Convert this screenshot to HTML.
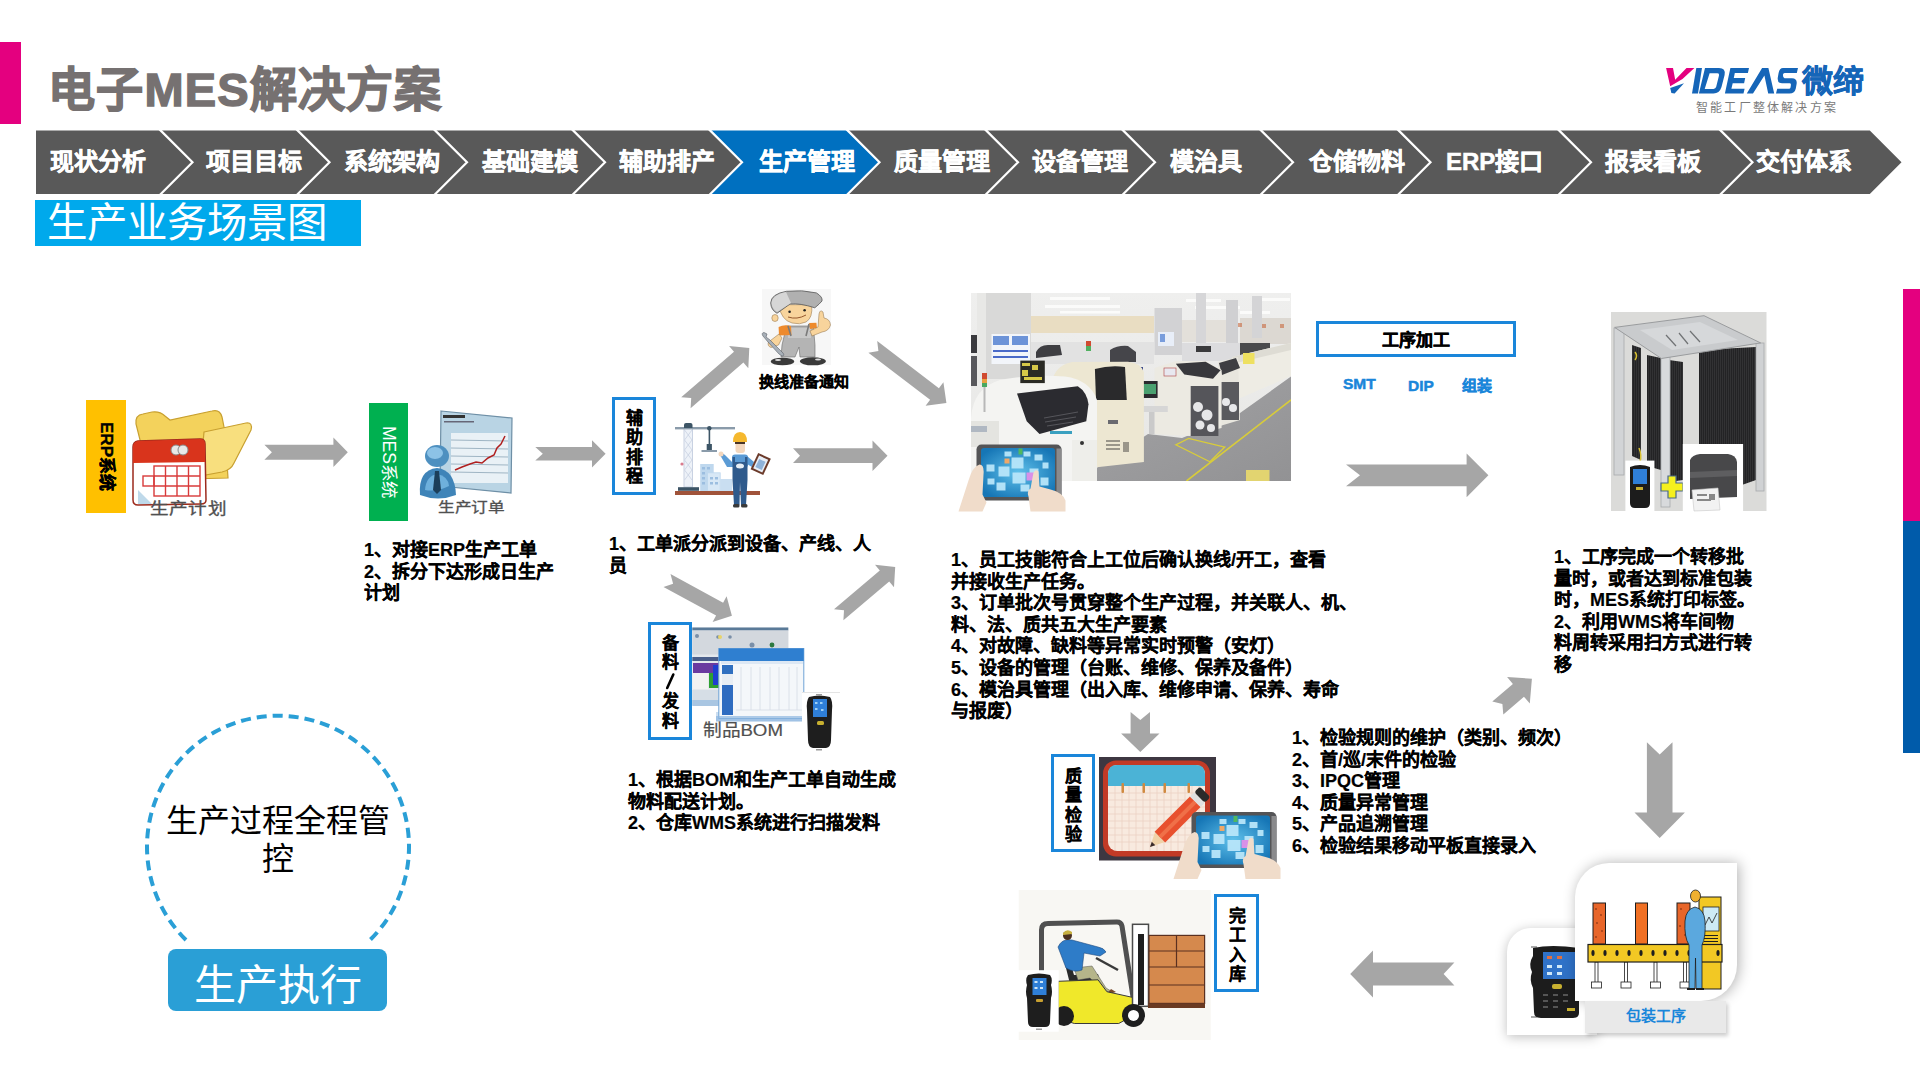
<!DOCTYPE html>
<html lang="zh-CN">
<head>
<meta charset="utf-8">
<style>
html,body{margin:0;padding:0;}
body{width:1920px;height:1080px;position:relative;overflow:hidden;background:#fff;font-family:"Liberation Sans",sans-serif;color:#000;}
.abs{position:absolute;}
svg.full{position:absolute;left:0;top:0;}
.title{position:absolute;left:48px;top:58px;font-size:47px;font-weight:bold;color:#767171;line-height:64px;white-space:nowrap;letter-spacing:1.2px;-webkit-text-stroke:1.4px #767171;}
.cl{position:absolute;top:146px;font-size:24px;font-weight:bold;color:#fff;line-height:32px;white-space:nowrap;-webkit-text-stroke:0.5px #fff;}
.sub{position:absolute;left:35px;top:200px;width:326px;height:46px;background:#00A9EC;}
.subt{position:absolute;left:47px;top:197px;font-size:40.5px;color:#fff;line-height:52px;white-space:nowrap;}
.txt{position:absolute;font-size:18px;font-weight:bold;line-height:21.6px;white-space:nowrap;color:#000;-webkit-text-stroke:0.2px #000;}
.vbox{position:absolute;border:3px solid #1A86DA;background:#fff;box-sizing:border-box;}
.vt{position:absolute;font-size:17px;font-weight:bold;line-height:19.4px;text-align:center;width:20px;-webkit-text-stroke:0.2px #000;}
</style>
</head>
<body>
<!-- pink bar -->
<div class="abs" style="left:0;top:42px;width:21px;height:82px;background:#E4007F"></div>
<div class="title">电子MES解决方案</div>

<!-- logo -->
<div class="abs" style="left:1802px;top:63px;font-size:31px;font-weight:bold;color:#1565B8;line-height:38px;-webkit-text-stroke:0.6px #1565B8;">微缔</div>
<div class="abs" style="left:1696px;top:99px;font-size:12px;color:#7A7A7A;line-height:18px;letter-spacing:2.2px;">智能工厂整体解决方案</div>

<svg class="full" width="1920" height="1080">
<polygon fill="#595959" points="36.0,130.6 160.8,130.6 192.5,162.3 160.8,194.0 36.0,194.0"/>
<polygon fill="#595959" points="160.8,130.6 297.8,130.6 329.5,162.3 297.8,194.0 160.8,194.0 192.5,162.3"/>
<polygon fill="#595959" points="297.8,130.6 435.3,130.6 467.0,162.3 435.3,194.0 297.8,194.0 329.5,162.3"/>
<polygon fill="#595959" points="435.3,130.6 573.3,130.6 605.0,162.3 573.3,194.0 435.3,194.0 467.0,162.3"/>
<polygon fill="#595959" points="573.3,130.6 710.3,130.6 742.0,162.3 710.3,194.0 573.3,194.0 605.0,162.3"/>
<polygon fill="#0070C0" points="710.3,130.6 847.8,130.6 879.5,162.3 847.8,194.0 710.3,194.0 742.0,162.3"/>
<polygon fill="#595959" points="847.8,130.6 986.3,130.6 1018.0,162.3 986.3,194.0 847.8,194.0 879.5,162.3"/>
<polygon fill="#595959" points="986.3,130.6 1123.3,130.6 1155.0,162.3 1123.3,194.0 986.3,194.0 1018.0,162.3"/>
<polygon fill="#595959" points="1123.3,130.6 1261.3,130.6 1293.0,162.3 1261.3,194.0 1123.3,194.0 1155.0,162.3"/>
<polygon fill="#595959" points="1261.3,130.6 1398.8,130.6 1430.5,162.3 1398.8,194.0 1261.3,194.0 1293.0,162.3"/>
<polygon fill="#595959" points="1398.8,130.6 1559.3,130.6 1591.0,162.3 1559.3,194.0 1398.8,194.0 1430.5,162.3"/>
<polygon fill="#595959" points="1559.3,130.6 1720.8,130.6 1752.5,162.3 1720.8,194.0 1559.3,194.0 1591.0,162.3"/>
<polygon fill="#595959" points="1720.8,130.6 1869.8,130.6 1901.5,162.3 1869.8,194.0 1720.8,194.0 1752.5,162.3"/>
<polyline fill="none" stroke="#fff" stroke-width="2.2" points="159.3,129.1 192.5,162.3 159.3,195.5"/>
<polyline fill="none" stroke="#fff" stroke-width="2.2" points="296.3,129.1 329.5,162.3 296.3,195.5"/>
<polyline fill="none" stroke="#fff" stroke-width="2.2" points="433.8,129.1 467.0,162.3 433.8,195.5"/>
<polyline fill="none" stroke="#fff" stroke-width="2.2" points="571.8,129.1 605.0,162.3 571.8,195.5"/>
<polyline fill="none" stroke="#fff" stroke-width="2.2" points="708.8,129.1 742.0,162.3 708.8,195.5"/>
<polyline fill="none" stroke="#fff" stroke-width="2.2" points="846.3,129.1 879.5,162.3 846.3,195.5"/>
<polyline fill="none" stroke="#fff" stroke-width="2.2" points="984.8,129.1 1018.0,162.3 984.8,195.5"/>
<polyline fill="none" stroke="#fff" stroke-width="2.2" points="1121.8,129.1 1155.0,162.3 1121.8,195.5"/>
<polyline fill="none" stroke="#fff" stroke-width="2.2" points="1259.8,129.1 1293.0,162.3 1259.8,195.5"/>
<polyline fill="none" stroke="#fff" stroke-width="2.2" points="1397.3,129.1 1430.5,162.3 1397.3,195.5"/>
<polyline fill="none" stroke="#fff" stroke-width="2.2" points="1557.8,129.1 1591.0,162.3 1557.8,195.5"/>
<polyline fill="none" stroke="#fff" stroke-width="2.2" points="1719.3,129.1 1752.5,162.3 1719.3,195.5"/>
</svg>
<div class="cl" style="left:50.0px">现状分析</div>
<div class="cl" style="left:206.0px">项目目标</div>
<div class="cl" style="left:344.0px">系统架构</div>
<div class="cl" style="left:481.5px">基础建模</div>
<div class="cl" style="left:619.0px">辅助排产</div>
<div class="cl" style="left:759.0px">生产管理</div>
<div class="cl" style="left:894.0px">质量管理</div>
<div class="cl" style="left:1031.5px">设备管理</div>
<div class="cl" style="left:1170.0px">模治具</div>
<div class="cl" style="left:1308.5px">仓储物料</div>
<div class="cl" style="left:1446.0px">ERP接口</div>
<div class="cl" style="left:1605.0px">报表看板</div>
<div class="cl" style="left:1756.0px">交付体系</div>

<div class="sub"></div>
<div class="subt">生产业务场景图</div>

<!-- right bars -->
<div class="abs" style="left:1903px;top:289px;width:17px;height:232px;background:#E4007F"></div>
<div class="abs" style="left:1903px;top:521px;width:17px;height:232px;background:#005BAA"></div>

<svg class="full" width="1920" height="1080">
<polygon fill="#A6A6A6" points="264.4,444.8 333.4,444.8 333.4,437.6 347.8,452.3 333.4,467.0 333.4,459.8 264.4,459.8 271.9,452.3"/>
<polygon fill="#A6A6A6" points="535.3,447.0 592.0,447.0 592.0,440.2 605.6,453.8 592.0,467.4 592.0,460.6 535.3,460.6 542.8,453.8"/>
<polygon fill="#A6A6A6" points="793.0,448.3 872.5,448.3 872.5,440.4 887.5,455.7 872.5,470.9 872.5,463.1 793.0,463.1 800.0,455.7"/>
<polygon fill="#A6A6A6" points="681.2,397.2 734.0,351.7 729.1,346.0 749.3,348.0 748.3,368.3 743.4,362.6 690.6,408.2 691.2,398.1"/>
<polygon fill="#A6A6A6" points="877.2,341.1 938.9,388.2 943.4,382.3 946.4,403.1 925.6,405.7 930.1,399.8 868.4,352.7 878.4,351.1"/>
<polygon fill="#A6A6A6" points="670.5,574.1 723.1,602.7 726.6,596.2 731.9,615.8 712.6,622.0 716.1,615.5 663.5,586.9 673.1,583.8"/>
<polygon fill="#A6A6A6" points="834.0,609.3 879.8,570.5 875.0,564.8 895.2,567.0 894.0,587.3 889.2,581.6 843.4,620.3 844.0,610.3"/>
<polygon fill="#A6A6A6" points="1346.0,464.4 1466.6,464.4 1466.6,453.4 1488.4,475.3 1466.6,497.2 1466.6,486.2 1346.0,486.2 1360.0,475.3"/>
<polygon fill="#A6A6A6" points="1150.0,712.0 1150.0,733.4 1159.5,733.4 1140.3,751.9 1121.1,733.4 1130.6,733.4 1130.6,712.0 1140.3,720.0"/>
<polygon fill="#A6A6A6" points="1492.3,701.5 1512.9,683.9 1507.1,677.0 1531.9,678.8 1529.8,703.6 1524.0,696.8 1503.3,714.5 1502.4,704.1"/>
<polygon fill="#A6A6A6" points="1672.5,742.2 1672.5,812.6 1684.9,812.6 1659.7,838.0 1634.5,812.6 1646.9,812.6 1646.9,742.2 1659.7,754.5"/>
<polygon fill="#A6A6A6" points="1454.4,985.4 1373.0,985.4 1373.0,997.4 1350.2,974.0 1373.0,950.6 1373.0,962.6 1454.4,962.6 1443.6,974.0"/>
</svg>
<svg class="full" width="1920" height="1080">
<!-- ERP folder + calendar -->
<g>
<path d="M136,424 Q135,415 143,414 L152,412 Q160,411 165,416 L170,420 L212,411 Q220,409 222,417 L225,432 L228,478 L150,480 Z" fill="#F3D25C" stroke="#C8A030" stroke-width="1.2"/>
<path d="M204,432 L246,423 Q253,422 251,430 L234,463 Q231,470 222,472 L200,476 Z" fill="#F8DF7E" stroke="#C8A030" stroke-width="1.2"/>
<path d="M133,447 Q133,442 138,441 L200,439 Q205,439 205,444 L206,500 Q206,504 201,504 L138,505 Q133,505 133,500 Z" fill="#FFFFFF" stroke="#9C2A1C" stroke-width="1.5"/>
<path d="M133,447 Q133,442 138,441 L200,439 Q205,439 205,444 L205,462 L133,463 Z" fill="#D9341C"/>
<circle cx="176" cy="450" r="5" fill="#E8E8E8" stroke="#888" stroke-width="1"/>
<circle cx="183" cy="450" r="5" fill="#E8E8E8" stroke="#888" stroke-width="1"/>
<g stroke="#D83A3A" stroke-width="1.4" fill="none">
<rect x="154" y="466" width="46" height="30"/>
<line x1="165.5" y1="466" x2="165.5" y2="496"/><line x1="177" y1="466" x2="177" y2="496"/><line x1="188.5" y1="466" x2="188.5" y2="496"/>
<line x1="154" y1="476" x2="200" y2="476"/><line x1="154" y1="486" x2="200" y2="486"/>
<rect x="143" y="476" width="11" height="10"/>
</g>
<path d="M138,490 L152,504 L138,504 Z" fill="#BFD9EA"/>
</g>
<!-- MES report + person -->
<g>
<path d="M441,411 L512,418 L511,493 L440,486 Z" fill="#B9D4E4" stroke="#6E8FA6" stroke-width="1.2"/>
<rect x="451" y="433" width="57" height="50" fill="#E9F1F6"/>
<g stroke="#9FB5C4" stroke-width="1">
<line x1="451" y1="440" x2="508" y2="441"/><line x1="451" y1="448" x2="508" y2="449"/><line x1="451" y1="456" x2="508" y2="457"/><line x1="451" y1="464" x2="508" y2="465"/><line x1="451" y1="472" x2="508" y2="473"/>
</g>
<rect x="443" y="415" width="22" height="3" fill="#333"/>
<rect x="444" y="421" width="30" height="1.5" fill="#667"/>
<path d="M455,470 L462,467 L470,464 L476,462 L482,463 L488,458 L494,455 L497,448 L501,444 L505,436" fill="none" stroke="#B02020" stroke-width="1.5"/>
<ellipse cx="437" cy="456" rx="12" ry="11" fill="#4E90C0"/>
<ellipse cx="435" cy="453" rx="8" ry="6" fill="#8CC2E6"/>
<path d="M420,495 Q418,470 437,468 Q455,470 456,495 Q438,502 420,495 Z" fill="#3F84B8"/>
<path d="M425,490 Q426,476 437,474 Q448,476 449,486 Q437,492 425,490 Z" fill="#6EB0DC"/>
<path d="M435,471 L439,471 L441,490 L437,494 L433,490 Z" fill="#1C3F5A"/>
</g>
<!-- crane worker -->
<g>
<rect x="684" y="428" width="8.5" height="59" fill="#EEF2F8" stroke="#C9D2E2" stroke-width="1"/>
<path d="M684.5,430 L692,440 L684.5,450 L692,460 L684.5,470 L692,480 M692,430 L684.5,440 L692,450 L684.5,460 L692,470 L684.5,480" fill="none" stroke="#C9D2E2" stroke-width="0.8"/>
<rect x="675" y="427" width="60" height="2.4" fill="#8A9BAA"/>
<path d="M684,428 L684,425 Q684,423 686,423 L690.5,423 Q692.5,423 692.5,425 L692.5,428 Z" fill="#3D5566"/>
<circle cx="709.3" cy="428.3" r="2.2" fill="#3D5566"/>
<rect x="708.6" y="428" width="1.6" height="17" fill="#3D5566"/>
<rect x="706.7" y="444" width="5.2" height="6" fill="#3D5566"/>
<rect x="701.5" y="450" width="15.5" height="2" fill="#8A9BAA"/>
<circle cx="682" cy="464" r="1.6" fill="#D97C8E"/>
<rect x="700.2" y="464" width="13.5" height="27" fill="#BFD8EE"/>
<rect x="707.6" y="472.8" width="12.6" height="18.2" fill="#D8E8F6" stroke="#BFD8EE" stroke-width="0.8"/>
<rect x="720.2" y="479" width="12" height="12" fill="#C9DEF1"/>
<g fill="#9CBEE0"><rect x="702" y="467" width="3" height="2.5"/><rect x="707" y="467" width="3" height="2.5"/><rect x="702" y="472" width="3" height="2.5"/><rect x="702" y="477" width="3" height="2.5"/><rect x="702" y="482" width="3" height="2.5"/><rect x="710" y="477" width="3" height="2.5"/><rect x="715" y="477" width="3" height="2.5"/><rect x="710" y="482" width="3" height="2.5"/><rect x="715" y="482" width="3" height="2.5"/></g>
<rect x="678" y="487.2" width="21" height="3.6" fill="#3D5566"/>
<rect x="675" y="491" width="85" height="4" fill="#A0533A"/>
<!-- worker -->
<path d="M720,455 Q722,452 725,455 L733,463 L733,467 L727,467 Z" fill="#5B9BD5"/>
<circle cx="721" cy="454" r="2.5" fill="#F3D7BE"/>
<path d="M747,456 L754,462 L752,467 L747,464 Z" fill="#5B9BD5"/>
<rect x="732" y="454.5" width="16" height="13" rx="3" fill="#5B9BD5"/>
<path d="M732.5,457 L735,457 L735,462 L745,462 L745,457 L747.5,457 L747.5,480 L746,505 L741,505 L740,482 L739.5,505 L734,505 L732.5,480 Z" fill="#2F5A8C"/>
<ellipse cx="740" cy="466" rx="4" ry="2.5" fill="#E6EEF6"/>
<rect x="733" y="504" width="6.5" height="3.5" rx="1.5" fill="#3A3A3A"/>
<rect x="741" y="504" width="6.5" height="3.5" rx="1.5" fill="#3A3A3A"/>
<rect x="735.5" y="440" width="9.5" height="13" rx="3" fill="#F3D7BE"/>
<rect x="735" y="441" width="10" height="3" fill="#4A3528"/>
<path d="M733,442 Q733,432 740,432 Q747,432 747,442 Z" fill="#F5B82E"/>
<g transform="translate(760.7,464) rotate(25)"><rect x="-7" y="-9" width="14" height="18" fill="#6B3A2A"/><rect x="-5" y="-7" width="10" height="14" fill="#E8EEF6"/><rect x="-3.5" y="-4" width="7" height="9" fill="#8FB3DA"/></g>
</g>
<!-- cartoon worker -->
<g>
<rect x="762" y="289" width="69" height="76" fill="#F7F7F7"/>
<!-- legs/overalls -->
<path d="M786.5,326 L813.3,326 L815,345 L815,357 L800,357 L799,347 L795,357 L781,357 L782,345 Z" fill="#B4B4B4" stroke="#6A6A6A" stroke-width="0.6"/>
<path d="M788,328 L811,328 L811,338 L788,338 Z" fill="#C8C8C8"/>
<!-- sleeves -->
<path d="M778.6,327 Q784,324 791,326 L791.5,335 L779,335.5 Z" fill="#EE8A2C"/>
<path d="M809,323 L816.4,322.8 L817,328 L810,329 Z" fill="#EE8A2C"/>
<!-- straps -->
<path d="M788,326 L791,336 M809,324 L806,336" stroke="#7A7A7A" stroke-width="1.6"/>
<!-- left arm + wrench -->
<path d="M779,334 L768.5,342 Q767,346 771,347.5 L778.5,345 L782,338 Z" fill="#F8D49C" stroke="#8A6A40" stroke-width="0.5"/>
<path d="M763,336 Q761,333 764,332.5 L767,334 L766,337 L770,340 L780,350 L783,353 Q785,356 782,356 L779,354 L768,342 Z" fill="#A8B0B8" stroke="#5A6068" stroke-width="0.6"/>
<!-- right arm thumbs up -->
<path d="M810,331 L818,327 L819,314 Q820,309 823,312 L824,318 Q830,319 830.5,325 Q829,331 822,332 L812,336 Z" fill="#F8D49C" stroke="#8A6A40" stroke-width="0.5"/>
<!-- head -->
<ellipse cx="775" cy="318" rx="3.2" ry="3.5" fill="#F8D49C" stroke="#8A6A40" stroke-width="0.5"/>
<path d="M778.6,304.7 L811.7,304.7 Q813,318 806,322 Q800,325 792,323 Q781,320 778.6,304.7 Z" fill="#F8D49C" stroke="#8A6A40" stroke-width="0.5"/>
<circle cx="789.6" cy="311.8" r="1.3" fill="#222"/><circle cx="804.6" cy="310.2" r="1.3" fill="#222"/>
<path d="M788,317 Q797,320 806,315" fill="none" stroke="#8A4A20" stroke-width="0.9"/>
<!-- cap -->
<path d="M770.7,303 Q771,294 786.5,291.3 Q802,289.5 816.4,292.9 Q823,297 822,301 Q819.6,304 814.8,307.8 Q800,303 790,304 L777,313.3 Q771,310 770.7,303 Z" fill="#B0B0B0" stroke="#555" stroke-width="0.8"/>
<path d="M771.5,303 Q772,295 786,292 L791,303 L777,312 Q772,309 771.5,303 Z" fill="#D6D6D6"/>
<!-- shoes -->
<ellipse cx="782.5" cy="361.5" rx="11.8" ry="3.8" fill="#3A3A3A"/>
<ellipse cx="812.9" cy="361.3" rx="13" ry="4" fill="#3A3A3A"/>
<ellipse cx="778" cy="360" rx="3" ry="1" fill="#DDD"/><ellipse cx="818" cy="359.5" rx="3" ry="1" fill="#DDD"/>
</g>
<!-- BOM screenshots -->
<g>
<rect x="692.3" y="627.5" width="96" height="77" fill="#E4E8EC"/>
<rect x="692.3" y="627.5" width="96" height="3" fill="#5A7A98"/>
<rect x="692.3" y="630.5" width="96" height="24" fill="#D3D8DE"/>
<g fill="#7A8FA8"><circle cx="697" cy="636" r="2"/><circle cx="718" cy="637" r="1.8"/><circle cx="730" cy="637" r="1.8"/><circle cx="752" cy="645" r="2.5"/><circle cx="772" cy="645" r="2.2"/></g>
<circle cx="720" cy="637" r="2" fill="#E8D46A"/>
<circle cx="772" cy="645" r="2.4" fill="#2E7A40"/>
<rect x="692.3" y="657" width="96" height="4" fill="#4A5F8A"/>
<rect x="693" y="663" width="26" height="10" fill="#6A3AA0"/>
<rect x="709" y="673" width="10" height="15" fill="#2EA030"/>
<rect x="713" y="665" width="5" height="20" fill="#1E3FD0"/>
<rect x="693" y="673" width="15" height="16" fill="#F2F2F2"/>
<rect x="692.3" y="690" width="96" height="15" fill="#D6DEE6"/>
<rect x="692.3" y="700" width="96" height="6" fill="#A9C6E2"/>
<rect x="716" y="712" width="92" height="10" fill="#BFD6EC" opacity="0.8"/>
<rect x="718.8" y="648.5" width="85" height="70" fill="#F4F7FA" stroke="#6FA3D6" stroke-width="1"/>
<rect x="718.8" y="648.5" width="85" height="12.5" fill="#2F7FD0"/>
<rect x="721" y="661" width="82" height="3" fill="#DDE8F4"/>
<rect x="722" y="665" width="11" height="9" fill="#3070C0"/>
<rect x="722" y="685" width="11" height="30" fill="#2F6CC0"/>
<rect x="722" y="674" width="11" height="11" fill="#E8EEF4"/>
<g stroke="#D5DCE4" stroke-width="0.8"><line x1="741" y1="667" x2="741" y2="710"/><line x1="751" y1="667" x2="751" y2="710"/><line x1="760" y1="667" x2="760" y2="710"/><line x1="770" y1="667" x2="770" y2="710"/><line x1="779" y1="667" x2="779" y2="710"/><line x1="789" y1="667" x2="789" y2="710"/><line x1="797" y1="667" x2="797" y2="710"/><line x1="736" y1="710" x2="802" y2="710"/></g>
<rect x="716" y="716" width="90" height="5" fill="#8DB6E0" opacity="0.7"/>
</g>
<!-- scanner (BOM) -->
<g>
<rect x="802" y="692" width="38" height="61" fill="#FFFFFF"/>
<line x1="802" y1="692.5" x2="840" y2="692.5" stroke="#DDD" stroke-width="0.8"/>
<path d="M809,697 Q819,694 830,697 Q833,701 832,710 L831,740 Q831,747 826,748 L813,748 Q808,747 808,740 L807,710 Q806,701 809,697 Z" fill="#1E1E1E"/>
<rect x="813" y="699" width="14" height="18" fill="#2F7FD8"/>
<g fill="#9ED0F5"><rect x="815" y="702" width="2.5" height="2"/><rect x="820" y="702" width="2.5" height="2"/><rect x="815" y="708" width="2.5" height="2"/><rect x="821" y="709" width="2.5" height="2"/></g>
<rect x="817" y="721" width="7" height="4" rx="1.5" fill="#C8B030"/>
<rect x="816" y="694" width="6" height="1.5" fill="#999"/>
<rect x="816" y="749" width="6" height="1.5" fill="#999"/>
</g>
<!-- factory photo -->
<defs>
<clipPath id="cpf"><rect x="971" y="293" width="320" height="188"/></clipPath>
<linearGradient id="gceil" x1="0" y1="0" x2="0" y2="1"><stop offset="0" stop-color="#EFEFEE"/><stop offset="1" stop-color="#E6E6E4"/></linearGradient>
<linearGradient id="gfloor" x1="0" y1="0" x2="1" y2="1"><stop offset="0" stop-color="#A4A4A6"/><stop offset="1" stop-color="#929294"/></linearGradient>
</defs>
<g clip-path="url(#cpf)">
<rect x="971" y="293" width="320" height="188" fill="url(#gceil)"/>
<!-- warm band far wall -->
<rect x="1031" y="316" width="123" height="17" fill="#E9DDC2"/>
<rect x="1182" y="320" width="55" height="22" fill="#E3E0DA"/>
<rect x="1240" y="318" width="51" height="26" fill="#DCD8D2"/>
<g fill="#C86A40" opacity="0.6"><rect x="1238" y="323" width="4" height="4"/><rect x="1262" y="324" width="4" height="4"/><rect x="1280" y="324" width="4" height="4"/></g>
<!-- lights -->
<g fill="#FBFBFA"><rect x="1050" y="297" width="60" height="3"/><rect x="1045" y="305" width="75" height="3"/><rect x="1060" y="311" width="60" height="2.5"/><rect x="1186" y="299" width="35" height="3"/><rect x="1195" y="306" width="45" height="3"/><rect x="1240" y="311" width="30" height="3"/><rect x="1262" y="298" width="28" height="3"/></g>
<!-- pillars -->
<rect x="986" y="293" width="45" height="86" fill="#D9D9D8"/>
<rect x="977" y="293" width="9" height="90" fill="#E8E8E6"/>
<rect x="1154.5" y="308" width="27.5" height="47" fill="#D2D2D4"/>
<rect x="1196" y="293" width="10" height="50" fill="#D6D6D8"/>
<rect x="1226" y="300" width="12" height="45" fill="#D0D0D2"/>
<rect x="1252" y="296" width="10" height="42" fill="#D4D4D6"/>
<!-- left dark strip -->
<rect x="971" y="335" width="6" height="18" fill="#3A3A3E"/>
<rect x="971" y="356" width="6" height="30" fill="#58585C"/>
<!-- info board -->
<rect x="991.5" y="334" width="38.5" height="30" fill="#F2F5FA"/>
<rect x="993" y="336" width="16" height="9" fill="#4A7AD0" opacity="0.8"/><rect x="1012" y="336" width="16" height="9" fill="#4A7AD0" opacity="0.8"/>
<rect x="993" y="350" width="35" height="2" fill="#4A6AC8"/><rect x="993" y="356" width="35" height="2" fill="#4A6AC8"/>
<rect x="1158" y="332" width="16" height="14" fill="#E8EEF8"/><rect x="1160" y="334" width="5" height="8" fill="#4A7AD0" opacity="0.7"/>
<!-- far machines row -->
<rect x="1031" y="342" width="123" height="22" fill="#E2E2E2"/>
<path d="M1036,352 Q1040,344 1050,345 L1060,345 L1062,355 L1036,358 Z" fill="#3E3E42"/>
<path d="M1110,350 Q1118,345 1128,346 L1136,352 L1136,362 L1110,362 Z" fill="#45454A"/>
<rect x="1182" y="343" width="58" height="18" fill="#DCDCDE"/>
<rect x="1196" y="346" width="15" height="6" fill="#3A3A3C"/>
<rect x="1240" y="343" width="30" height="12" fill="#4A4A4C"/>
<rect x="1086" y="341" width="5" height="10" fill="#D04A30"/><rect x="1086" y="346" width="5" height="5" fill="#50B060"/>
<!-- reflow oven -->
<path d="M1232,357 L1291,343 L1291,376 L1236,400 L1232,400 Z" fill="#EEECE4"/>
<path d="M1232,357 L1291,343 L1291,350 L1236,363 Z" fill="#DEDCD4"/>
<rect x="1243" y="353" width="11.5" height="11" fill="#EEE060"/>
<!-- floor -->
<path d="M1077,481 L1148,434 L1182,438 L1218,423.5 L1240,413 L1291,376.6 L1291,481 Z" fill="url(#gfloor)"/>
<path d="M1186.5,481 L1291,400" stroke="#D8CC3A" stroke-width="1.6" fill="none"/>
<path d="M1175.8,444.8 L1188.6,438.4 L1224.8,447 L1209.9,461.8 Z" fill="none" stroke="#D8CC3A" stroke-width="1.3"/>
<rect x="1246" y="470" width="23.5" height="11" fill="#E2D470"/>
<!-- placement machine 2 -->
<path d="M1218,362 L1238,357 L1240,420 L1220,426 Z" fill="#E8E6DE"/>
<path d="M1219,363 L1236,358 L1240,368 L1222,375 Z" fill="#3E3E42"/>
<rect x="1220" y="382" width="19" height="38" fill="#5A5A5E"/>
<g fill="#E8E8EA"><circle cx="1226" cy="402" r="4"/><circle cx="1233" cy="408" r="4"/></g>
<!-- placement machine 1 -->
<path d="M1154.5,368 L1176,361 L1206,361 L1221.6,370 L1221.6,428 L1190,436 L1154.5,434 Z" fill="#ECEAE2"/>
<path d="M1175.8,363.8 L1205.6,361.7 L1220.6,370.2 L1213,378.7 L1184.3,374.5 Z" fill="#38383C"/>
<rect x="1190.7" y="386" width="27.7" height="50" fill="#55555A"/>
<g fill="#E6E6E8"><circle cx="1198" cy="407" r="5"/><circle cx="1207" cy="415" r="5.5"/><circle cx="1200" cy="425" r="4.5"/><circle cx="1211" cy="428" r="4"/></g>
<rect x="1164" y="368" width="12" height="8" fill="#E8E8F0" stroke="#B04040" stroke-width="0.6"/>
<!-- console with monitor -->
<rect x="1134" y="367" width="9" height="31" fill="#3C4A8A"/>
<rect x="1139.6" y="381" width="18" height="17" fill="#2A2A2E"/>
<rect x="1141" y="384" width="15" height="10" fill="#4AA070"/>
<rect x="1142.8" y="406" width="25" height="6" fill="#D6D6D6"/>
<rect x="1149" y="412" width="5.5" height="22" fill="#CACACA"/>
<!-- cream printer machine -->
<path d="M1052,383 Q1054,366 1072,362 L1128,361.7 Q1141,363 1143.9,372 L1143.9,462 L1090,468 L1052,460 Z" fill="#EDE7D2"/>
<path d="M1094.9,369 Q1110,365 1125,367 L1126.8,400 L1096,400 Z" fill="#2A2A2C"/>
<g fill="#9A968A"><rect x="1106" y="440" width="14" height="2"/><rect x="1106" y="444" width="14" height="2"/><rect x="1106" y="448" width="14" height="2"/><rect x="1123" y="442" width="6" height="10"/></g>
<rect x="1108" y="420" width="10" height="4" fill="#6A6A70"/>
<!-- white big machine -->
<path d="M971,418 Q973,388 1000,380 Q1030,374 1065,376.6 Q1090,380 1097,400 L1097,481 L971,481 Z" fill="#F4F4F2"/>
<path d="M1017,393.6 L1077.8,386.2 Q1087,392 1088.5,404.3 L1086.3,421.3 L1039.5,434.1 L1026.7,421.3 Z" fill="#2B2B30"/>
<g stroke="#5A5A60" stroke-width="0.9"><line x1="1044" y1="418" x2="1078" y2="412"/><line x1="1045" y1="422" x2="1076" y2="417"/><line x1="1047" y1="426" x2="1073" y2="422"/></g>
<rect x="1050" y="431" width="22" height="3" fill="#3AA0C0"/>
<rect x="1072" y="440" width="25" height="41" fill="#EEEEEA"/>
<circle cx="1082" cy="443" r="2" fill="#333"/>
<!-- left edge small machine -->
<rect x="971" y="421" width="28" height="26" fill="#E4E4E0"/>
<rect x="971" y="426" width="16" height="6" fill="#B0B8C2"/>
<!-- signal tower -->
<rect x="982" y="373" width="5" height="6" fill="#D04A30"/>
<rect x="982" y="379" width="5" height="4" fill="#E8A040"/>
<rect x="982" y="383" width="5" height="4" fill="#48A860"/>
<rect x="983.5" y="387" width="2" height="25" fill="#B8B8B8"/>
<!-- yellow monitor -->
<rect x="1020.3" y="360.6" width="24.5" height="22.5" fill="#2A2A24"/>
<g fill="#D6C848"><rect x="1022" y="363" width="8" height="3"/><rect x="1032" y="365" width="6" height="5"/><rect x="1022" y="370" width="6" height="6"/><rect x="1024" y="377" width="18" height="3"/></g>
</g>
<!-- tablet w/ hands template (factory) -->
<defs>
<g id="tab">
<rect x="0" y="0" width="85" height="56" rx="5" fill="#545456"/>
<rect x="80" y="4" width="5" height="48" fill="#8A8A8C"/>
<defs><radialGradient id="gscr" cx="0.5" cy="0.5" r="0.6"><stop offset="0" stop-color="#5FC0EA"/><stop offset="1" stop-color="#1676B6"/></radialGradient></defs>
<rect x="4.5" y="3.5" width="74" height="49" rx="3" fill="url(#gscr)"/>
<g fill="#B8E6FA" opacity="0.95">
<rect x="10" y="20" width="8" height="7"/><rect x="22" y="22" width="11" height="10"/><rect x="35" y="13" width="12" height="11"/><rect x="36" y="28" width="13" height="11"/><rect x="53" y="24" width="9" height="8"/><rect x="58" y="10" width="8" height="6"/><rect x="11" y="34" width="7" height="6"/><rect x="20" y="38" width="9" height="8"/><rect x="64" y="33" width="8" height="8"/><rect x="28" y="7" width="7" height="5"/><rect x="47" y="7" width="7" height="5"/><rect x="44" y="40" width="9" height="7"/><rect x="66" y="18" width="6" height="6"/>
</g>
<rect x="50" y="28" width="9" height="8" fill="#D890E8"/>
<rect x="28" y="14" width="5" height="5" fill="#F0A868"/>
<rect x="42" y="4" width="4" height="6" fill="#50B860"/>
<path d="M-18,67 L-8,36 Q-4,22 3,20 Q8,20 7,30 L6,50 L10,58 L6,67 Z" fill="#F0DCCA"/>
<path d="M54,67 L52,52 Q50,46 54,44 L57,28 Q59,24 62,27 L63,42 L74,45 Q86,48 89,56 L89,67 Z" fill="#F0DCCA"/>
</g>
</defs>
<use href="#tab" x="976.5" y="444.5"/>
<!-- PCB rack -->
<g>
<rect x="1611" y="312" width="155.5" height="199" fill="#DBDBD9"/>
<defs><pattern id="ridge" width="2" height="3" patternUnits="userSpaceOnUse"><rect width="2" height="3" fill="#232325"/><rect width="1" height="3" fill="#323234"/></pattern></defs>
<path d="M1699,350 L1756,347 L1756,480 L1722,492 L1699,484 Z" fill="url(#ridge)"/>
<path d="M1632,345 L1641,348 L1641,460 L1632,456 Z" fill="url(#ridge)"/>
<path d="M1647,355 L1661,358 L1661,470 L1647,466 Z" fill="url(#ridge)"/>
<path d="M1669,360 L1683,362 L1683,480 L1669,482 Z" fill="url(#ridge)"/>

<rect x="1614" y="328" width="10" height="147" fill="#D2D4D6" stroke="#A8AAAC" stroke-width="0.8"/>
<rect x="1661" y="357" width="9" height="150" fill="#D8DADC" stroke="#A8AAAC" stroke-width="0.8"/>
<rect x="1756" y="343" width="8" height="148" fill="#D0D2D4" stroke="#A8AAAC" stroke-width="0.8"/>
<path d="M1614.7,327.4 L1704,315.7 L1760.6,342.9 L1661.4,358.5 Z" fill="#C9CBCD" stroke="#9A9C9E" stroke-width="1"/>
<path d="M1640,330 L1700,322 L1738,340 L1672,350 Z" fill="#D6D8DA"/>
<g stroke="#707274" stroke-width="1.2"><line x1="1666" y1="335" x2="1676" y2="346"/><line x1="1679" y1="333" x2="1688" y2="344"/><line x1="1690" y1="331" x2="1700" y2="342"/></g>
<path d="M1635,352 Q1638,356 1635,360" stroke="#D8C030" stroke-width="1.5" fill="none"/>
<path d="M1639,448 Q1642,455 1640,462" stroke="#D8C030" stroke-width="1.5" fill="none"/>
<!-- scanner -->
<rect x="1625.4" y="460.6" width="29" height="50.6" fill="#FFFFFF"/>
<path d="M1630,467 Q1640,463 1650,467 L1650,503 Q1650,508 1645,508 L1635,508 Q1630,508 1630,503 Z" fill="#1C1C1C"/>
<rect x="1633" y="469" width="14" height="15" fill="#2F7FD8"/>
<rect x="1636" y="487" width="7" height="3" fill="#C8B030"/>
<!-- plus -->
<path d="M1668,476 L1676,476 L1676,483 L1683,483 L1683,491 L1676,491 L1676,498 L1668,498 L1668,491 L1661,491 L1661,483 L1668,483 Z" fill="#F5F01E" stroke="#4A6A8A" stroke-width="1.2"/>
<!-- printer -->
<rect x="1682.8" y="444" width="60.3" height="67.2" fill="#FFFFFF"/>
<path d="M1690,460 Q1692,455 1700,454 L1728,454 Q1736,455 1737,462 L1737,497 L1690,499 Z" fill="#48484A"/>
<path d="M1690,472 L1737,470 L1737,476 L1690,478 Z" fill="#5E5E60"/>
<path d="M1692,490 L1718,488 L1720,510 L1694,511 Z" fill="#F2F2F2" stroke="#C8C8C8" stroke-width="0.6"/>
<g fill="#888"><rect x="1697" y="494" width="10" height="2"/><rect x="1697" y="499" width="14" height="2"/><rect x="1709" y="494" width="6" height="6"/></g>
</g>
<!-- quality calendar icon -->
<g>
<rect x="1099" y="757" width="117" height="103.5" fill="#3D3741"/>
<rect x="1103" y="760.5" width="107" height="96" rx="13" fill="#C23A26"/>
<rect x="1108" y="765" width="97" height="86" rx="9" fill="#F8EADF"/>
<path d="M1108,774 Q1108,765 1117,765 L1196,765 Q1205,765 1205,774 L1205,786 L1108,786 Z" fill="#4BB3D6"/>
<g stroke="#EBCFC0" stroke-width="0.7">
<line x1="1108" y1="793" x2="1205" y2="793"/><line x1="1108" y1="800" x2="1205" y2="800"/><line x1="1108" y1="807" x2="1205" y2="807"/><line x1="1108" y1="814" x2="1205" y2="814"/><line x1="1108" y1="821" x2="1205" y2="821"/><line x1="1108" y1="828" x2="1205" y2="828"/><line x1="1108" y1="835" x2="1205" y2="835"/><line x1="1108" y1="842" x2="1205" y2="842"/>
<line x1="1115" y1="786" x2="1115" y2="851"/><line x1="1122" y1="786" x2="1122" y2="851"/><line x1="1129" y1="786" x2="1129" y2="851"/><line x1="1136" y1="786" x2="1136" y2="851"/><line x1="1143" y1="786" x2="1143" y2="851"/><line x1="1150" y1="786" x2="1150" y2="851"/><line x1="1157" y1="786" x2="1157" y2="851"/><line x1="1164" y1="786" x2="1164" y2="851"/><line x1="1171" y1="786" x2="1171" y2="851"/><line x1="1178" y1="786" x2="1178" y2="851"/><line x1="1185" y1="786" x2="1185" y2="851"/><line x1="1192" y1="786" x2="1192" y2="851"/><line x1="1199" y1="786" x2="1199" y2="851"/>
</g>
<g fill="#D08A40"><rect x="1121.5" y="783" width="2.5" height="10" rx="1"/><rect x="1142.5" y="783" width="2.5" height="10" rx="1"/><rect x="1163.5" y="783" width="2.5" height="10" rx="1"/><rect x="1187.5" y="783" width="2.5" height="10" rx="1"/></g>
<!-- pencil -->
<g transform="translate(1150,847) rotate(-45)">
<path d="M0,0 L14,-7 L14,7 Z" fill="#F0D2A8"/>
<path d="M0,0 L5,-2.5 L5,2.5 Z" fill="#3A2A2A"/>
<rect x="14" y="-7.5" width="50" height="15" fill="#E8502E"/>
<rect x="14" y="-2" width="50" height="4" fill="#F07048"/>
<rect x="64" y="-7.5" width="6" height="15" fill="#E0E0E0"/>
<rect x="70" y="-7.5" width="8" height="15" rx="3" fill="#2A2A2A"/>
</g>
</g>
<use href="#tab" x="1191.5" y="812"/>
<!-- forklift -->
<g>
<rect x="1018.7" y="890" width="192" height="150" fill="#F8F7F3"/>
<!-- cage -->
<path d="M1041.5,1005 L1041.5,930 Q1041.5,923.5 1048,923.5 L1117,922 Q1121,922 1122,926 L1133.5,1000" fill="none" stroke="#505050" stroke-width="5"/>
<!-- seat -->
<path d="M1062,952 Q1060,946 1066,948 L1074,975 L1098,974 L1100,981 L1070,984 Z" fill="#2A2A2A"/>
<!-- steering -->
<path d="M1096,958 L1118,970" stroke="#3A3A3A" stroke-width="2.5"/>
<!-- worker -->
<path d="M1074,968 L1092,966 L1106,988 L1111,991 L1104,994 L1090,978 L1078,980 Z" fill="#B5B58A" stroke="#555" stroke-width="0.5"/>
<path d="M1111,989 L1116,992 L1106,995 Z" fill="#7A4A2A"/>
<path d="M1058,947 Q1062,938 1072,940 L1098,947 Q1104,948 1106,952 L1100,956 L1084,953 L1082,970 Q1074,973 1066,968 Z" fill="#2E7CC8" stroke="#1E4A80" stroke-width="0.6"/>
<circle cx="1067.5" cy="935.5" r="4.5" fill="#4A3020"/>
<path d="M1063,933 Q1067,928 1072,932 L1072,934 L1063,935 Z" fill="#C8B040"/>
<!-- yellow body -->
<path d="M1058,981.3 L1098,979.8 L1106.9,991.7 L1133.5,997.6 L1133.5,1015.4 L1118.7,1023.5 L1074.3,1023.5 L1058,1018.3 Z" fill="#F0E82A" stroke="#3A3A3A" stroke-width="1"/>
<!-- mast -->
<rect x="1132.5" y="924.3" width="16" height="82" fill="#FFFFFF" stroke="#4A4A4A" stroke-width="1.5"/>
<rect x="1138" y="934" width="6" height="71" fill="#1E1E1E"/>
<!-- boxes -->
<rect x="1149" y="935.4" width="55.6" height="68" fill="#D5894D"/>
<g stroke="#5A3020" stroke-width="1.2" fill="none"><line x1="1149" y1="951" x2="1204.6" y2="951"/><line x1="1149" y1="967" x2="1204.6" y2="967"/><line x1="1149" y1="985" x2="1204.6" y2="985"/><line x1="1176.5" y1="935.4" x2="1176.5" y2="967"/><rect x="1149" y="935.4" width="55.6" height="68"/></g>
<rect x="1148" y="1003.5" width="57" height="4.5" fill="#6A3A22"/>
<!-- wheels -->
<circle cx="1133.5" cy="1015.4" r="11.5" fill="#1E1E1E"/><circle cx="1133.5" cy="1015.4" r="5.5" fill="#FFFFFF"/>
<circle cx="1064" cy="1016" r="10" fill="#1E1E1E"/>
<!-- scanner -->
<rect x="1015.7" y="970.2" width="43" height="61.5" fill="#FFFFFF"/>
<path d="M1028,975 Q1039,972 1050,975 Q1053,979 1051,985 Q1053,992 1051,998 L1050,1022 Q1050,1027 1045,1027 L1033,1027 Q1028,1027 1028,1022 L1027,998 Q1025,992 1027,985 Q1025,979 1028,975 Z" fill="#1E1E1E"/>
<rect x="1032.5" y="978" width="14" height="17" fill="#2F7FD8"/>
<g fill="#CDE6F8"><rect x="1034.5" y="981" width="3" height="2"/><rect x="1040" y="981" width="3" height="2"/><rect x="1034.5" y="987" width="3" height="2"/><rect x="1040" y="987" width="3" height="2"/></g>
<rect x="1036" y="999" width="7" height="3" rx="1" fill="#C8A030"/>
<rect x="1036" y="1028.5" width="6" height="1.5" fill="#999"/>
</g>
<!-- logo -->
<g>
<polygon fill="#E4007F" points="1666.1,68.1 1673,68.1 1675.2,79.7 1686.5,68.1 1694.4,68.1 1682.5,79.1 1670.2,86.3"/>
<polygon fill="#1565B8" points="1670.2,87.9 1684,83.2 1674.6,93.6 1671.4,93"/>
<polygon fill="#1565B8" points="1696.3,68 1702,68 1698,93.6 1692,93.6"/>
<path fill="#1565B8" fill-rule="evenodd" d="M1705,68 L1719,68 Q1726,68 1724.6,75 L1721.5,87 Q1719.5,93.5 1713.5,93.5 L1698.9,93.5 Z M1709.6,73.2 L1717.5,73.2 Q1719.5,73.2 1719,75.5 L1716.2,86.8 Q1715.6,88.9 1713.5,88.9 L1704.7,88.9 Z"/>
<polygon fill="#1565B8" points="1730.4,68 1749,68 1747.9,73.1 1734.8,73.1 1733.8,78 1745.2,78 1744.1,83.3 1732.7,83.3 1731.4,88.8 1744.6,88.8 1743.5,93.5 1724.9,93.5"/>
<polygon fill="#1565B8" points="1746.8,93.5 1762.1,68 1768.4,68 1774.2,93.5 1768.2,93.5 1764.4,75.5 1753,93.5"/>
<path fill="#1565B8" d="M1783,68 L1798,68 L1796.8,73.1 L1784.6,73.1 Q1783.2,73.1 1783,74.6 Q1782.8,78.2 1784.5,78.2 L1792,78.2 Q1797.5,78.5 1796.6,84 L1795.8,88.5 Q1794.8,93.5 1789.5,93.5 L1776,93.5 L1777.2,88.8 L1789,88.8 Q1790.3,88.8 1790.6,87.2 L1790.9,85 Q1791.1,83.3 1789.6,83.3 L1782,83.3 Q1777,83.2 1777.8,77.5 L1778.6,73 Q1779.6,68 1783,68 Z"/>
</g>

</svg>

<!-- ERP -->
<div class="abs" style="left:86px;top:400px;width:40px;height:113px;background:#FFC000"></div>
<div class="abs" style="left:126px;top:400px;width:113px;height:40px;transform-origin:0 0;transform:rotate(90deg);font-size:17px;font-weight:bold;line-height:40px;text-align:center;-webkit-text-stroke:0.4px #000;">ERP系统</div>

<!-- MES -->
<div class="abs" style="left:369px;top:403px;width:39px;height:118px;background:#00B050"></div>
<div class="abs" style="left:408px;top:403px;width:118px;height:39px;transform-origin:0 0;transform:rotate(90deg);font-size:17.5px;color:#fff;line-height:39px;text-align:center;">MES系统</div>

<div class="txt" style="left:364px;top:540px;">1、对接ERP生产工单<br>2、拆分下达形成日生产<br>计划</div>
<div class="txt" style="left:609px;top:534px;">1、工单派分派到设备、产线、人<br>员</div>
<div class="txt" style="left:628px;top:770px;">1、根据BOM和生产工单自动生成<br>物料配送计划。<br>2、仓库WMS系统进行扫描发料</div>
<div class="txt" style="left:951px;top:550px;">1、员工技能符合上工位后确认换线/开工，查看<br>并接收生产任务。<br>3、订单批次号贯穿整个生产过程，并关联人、机、<br>料、法、质共五大生产要素<br>4、对故障、缺料等异常实时预警（安灯）<br>5、设备的管理（台账、维修、保养及备件）<br>6、模治具管理（出入库、维修申请、保养、寿命<br>与报废）</div>
<div class="txt" style="left:1292px;top:728px;">1、检验规则的维护（类别、频次）<br>2、首/巡/末件的检验<br>3、IPQC管理<br>4、质量异常管理<br>5、产品追溯管理<br>6、检验结果移动平板直接录入</div>
<div class="txt" style="left:1554px;top:547px;">1、工序完成一个转移批<br>量时，或者达到标准包装<br>时，MES系统打印标签。<br>2、利用WMS将车间物<br>料周转采用扫方式进行转<br>移</div>

<!-- boxes -->
<div class="vbox" style="left:612px;top:397px;width:44px;height:98px;"></div>
<div class="vt" style="left:624px;top:409px;">辅<br>助<br>排<br>程</div>
<div class="vbox" style="left:648px;top:622px;width:44px;height:118px;"></div>
<div class="vt" style="left:660px;top:634px;">备<br>料<br>&nbsp;<br>发<br>料</div>
<svg class="full" width="1920" height="1080"><line x1="673.3" y1="674.5" x2="667.2" y2="688" stroke="#000" stroke-width="2.6" stroke-linecap="round"/></svg>
<div class="vbox" style="left:1051px;top:754px;width:44px;height:98px;"></div>
<div class="vt" style="left:1063px;top:767px;">质<br>量<br>检<br>验</div>
<div class="vbox" style="left:1214px;top:894px;width:45px;height:98px;"></div>
<div class="vt" style="left:1227px;top:907px;">完<br>工<br>入<br>库</div>

<div class="vbox" style="left:1316px;top:321px;width:200px;height:36px;"></div>
<div class="abs" style="left:1316px;top:330px;width:200px;text-align:center;font-size:17px;font-weight:bold;line-height:22px;-webkit-text-stroke:0.5px #000;">工序加工</div>
<div class="abs" style="left:1343px;top:374px;font-size:15.5px;font-weight:bold;color:#1A86DA;line-height:20px;-webkit-text-stroke:0.5px #1A86DA;">SMT</div>
<div class="abs" style="left:1408px;top:376px;font-size:15.5px;font-weight:bold;color:#1A86DA;line-height:20px;-webkit-text-stroke:0.5px #1A86DA;">DIP</div>
<div class="abs" style="left:1462px;top:376px;font-size:15px;font-weight:bold;color:#1A86DA;line-height:20px;-webkit-text-stroke:0.4px #1A86DA;">组装</div>

<div class="abs" style="left:759px;top:372px;font-size:15px;font-weight:bold;line-height:20px;-webkit-text-stroke:0.3px #000;">换线准备通知</div>
<div class="abs" style="left:150px;top:498px;font-size:15.5px;color:#505050;line-height:22px;transform-origin:0 0;transform:scaleX(1.2);-webkit-text-stroke:0.3px #505050;">生产计划</div>
<div class="abs" style="left:437.5px;top:496px;font-size:14px;color:#505050;line-height:22px;transform-origin:0 0;transform:scaleX(1.19);-webkit-text-stroke:0.3px #505050;">生产订单</div>
<div class="abs" style="left:702.5px;top:719px;font-size:17px;color:#505050;line-height:24px;transform-origin:0 0;transform:scaleX(1.1);-webkit-text-stroke:0.2px #505050;">制品BOM</div>

<!-- circle -->
<svg class="full" width="1920" height="1080">
<path d="M 186 940 A 131 131 0 1 1 370 940" fill="none" stroke="#2A9FD6" stroke-width="4" stroke-dasharray="10 6"/>
</svg>
<div class="abs" style="left:140px;top:802px;width:276px;text-align:center;font-size:32px;line-height:38px;color:#000;">生产过程全程管<br>控</div>
<div class="abs" style="left:168px;top:949px;width:219px;height:62px;background:#2A9FD6;border-radius:8px;"></div>
<div class="abs" style="left:168px;top:957px;width:219px;text-align:center;font-size:42px;line-height:58px;color:#fff;">生产执行</div>

<!-- packaging block -->
<div class="abs" style="left:1507px;top:928px;width:90px;height:107px;background:#fff;border-radius:24px 0 0 0;box-shadow:0px 2px 12px rgba(0,0,0,0.25);"></div>
<svg class="abs" style="left:1507px;top:928px;" width="90" height="107">
<rect x="24" y="18" width="6" height="2" fill="#AAA"/><rect x="24" y="88" width="6" height="2" fill="#AAA"/>
<path d="M26,20 Q44,16 72,20 L72,85 Q72,90 66,90 L34,90 Q27,90 27,84 L26,60 Q22,52 25,44 Q21,36 26,28 Z" fill="#1C1C1C"/>
<rect x="36" y="24" width="36" height="27" fill="#2F72C8"/>
<g fill="#E07040"><rect x="40" y="28" width="5" height="3"/><rect x="50" y="28" width="5" height="3"/></g>
<g fill="#D0E8F8"><rect x="40" y="37" width="5" height="3"/><rect x="50" y="37" width="5" height="3"/><rect x="40" y="44" width="5" height="3"/><rect x="50" y="44" width="5" height="3"/></g>
<rect x="45" y="56" width="10" height="5" rx="2" fill="#C8B030"/>
<g fill="#555"><rect x="36" y="66" width="5" height="2"/><rect x="46" y="66" width="5" height="2"/><rect x="56" y="66" width="5" height="2"/><rect x="36" y="72" width="5" height="2"/><rect x="46" y="72" width="5" height="2"/><rect x="56" y="72" width="5" height="2"/><rect x="36" y="78" width="5" height="2"/><rect x="46" y="78" width="5" height="2"/></g>
<rect x="60" y="80" width="8" height="3" fill="#C8B030"/>
</svg>
<div class="abs" style="left:1575px;top:863px;width:162px;height:138px;background:#fff;border-radius:34px 0 36px 0;box-shadow:2px 0px 14px rgba(0,0,0,0.30);"></div>
<svg class="abs" style="left:1575px;top:863px;" width="162" height="138">
<g stroke="#1E1E1E" stroke-width="1">
<rect x="18" y="40" width="12.5" height="41" fill="#E8662A"/>
<rect x="60.5" y="40" width="12" height="41" fill="#F07024"/>
<rect x="102" y="40" width="13" height="41" fill="#E8662A"/>
</g>
<g fill="#7A2A10" opacity="0.7"><circle cx="21" cy="46" r="0.9"/><circle cx="26" cy="52" r="0.9"/><circle cx="22" cy="60" r="0.9"/><circle cx="27" cy="68" r="0.9"/><circle cx="21" cy="74" r="0.9"/><circle cx="106" cy="46" r="0.9"/><circle cx="111" cy="55" r="0.9"/><circle cx="105" cy="63" r="0.9"/><circle cx="110" cy="72" r="0.9"/></g>
<g stroke="#1E1E1E" stroke-width="0.8" fill="#FFFFFF">
<rect x="20" y="99" width="3" height="22"/><rect x="49.5" y="99" width="3" height="22"/><rect x="79" y="99" width="3" height="22"/><rect x="108.5" y="99" width="3" height="22"/>
<rect x="16.5" y="119" width="10" height="6"/><rect x="46" y="119" width="10" height="6"/><rect x="75.5" y="119" width="10" height="6"/><rect x="105" y="119" width="10" height="6"/>
</g>
<rect x="124" y="34" width="22" height="92" fill="#F2C824" stroke="#1E1E1E" stroke-width="1"/>
<rect x="128" y="44" width="16" height="24" fill="#CDEAF5" stroke="#1E1E1E" stroke-width="0.8"/>
<path d="M130,62 L134,54 L137,60 L142,50" stroke="#1E1E1E" stroke-width="0.8" fill="none"/>
<g fill="#1E1E1E"><rect x="129" y="72" width="14" height="1"/><rect x="129" y="75" width="14" height="1"/><rect x="129" y="78" width="14" height="1"/></g>
<rect x="13" y="81.5" width="134" height="17.5" fill="#F2C824" stroke="#1E1E1E" stroke-width="1.2"/>
<g fill="#1E1E1E"><ellipse cx="18" cy="90" rx="1.6" ry="3"/><ellipse cx="30" cy="90" rx="1.6" ry="3"/><ellipse cx="42" cy="90" rx="1.6" ry="3"/><ellipse cx="54" cy="90" rx="1.6" ry="3"/><ellipse cx="66" cy="90" rx="1.6" ry="3"/><ellipse cx="78" cy="90" rx="1.6" ry="3"/><ellipse cx="90" cy="90" rx="1.6" ry="3"/><ellipse cx="102" cy="90" rx="1.6" ry="3"/><ellipse cx="114" cy="90" rx="1.6" ry="3"/><ellipse cx="143" cy="90" rx="1.6" ry="3"/></g>
<path d="M114,126 L114,82 Q109,74 110,58 Q111,46 120,44 Q129,46 130,58 Q131,74 127,82 L127,126 L121,126 L120.5,95 L120,126 Z" fill="#5BA8DE" stroke="#1E1E1E" stroke-width="0.8"/>
<ellipse cx="120.5" cy="33" rx="5" ry="6" fill="#F0B030" stroke="#1E1E1E" stroke-width="0.8"/>
<rect x="112" y="125" width="8" height="2" fill="#1E1E1E"/><rect x="121" y="125" width="8" height="2" fill="#1E1E1E"/>
</svg>
<div class="abs" style="left:1585px;top:1001px;width:141px;height:32px;background:#E9E9E9;box-shadow:2px 3px 4px rgba(0,0,0,0.2);"></div>
<div class="abs" style="left:1585px;top:1005px;width:141px;text-align:center;font-size:15px;font-weight:bold;color:#1A86DA;line-height:22px;">包装工序</div>

</body>
</html>
